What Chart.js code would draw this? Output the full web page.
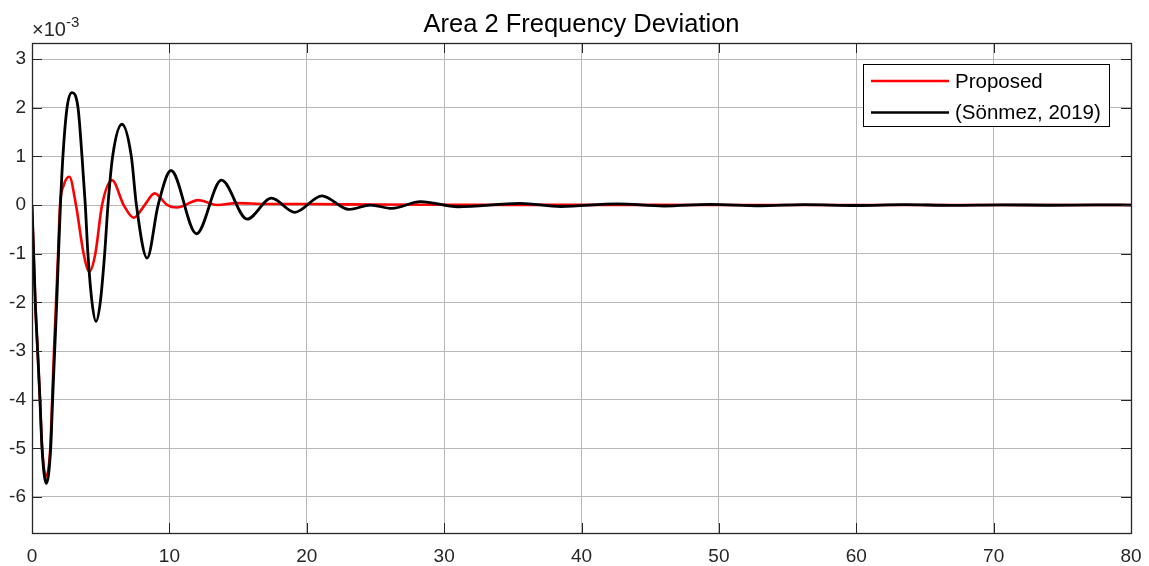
<!DOCTYPE html>
<html>
<head>
<meta charset="utf-8">
<script src="https://cdn.jsdelivr.net/npm/chart.js@4.4.1/dist/chart.umd.min.js"></script>
<style>
  html, body { margin: 0; padding: 0; background: #fff; }
  #wrap { width: 1149px; height: 566px; }
</style>
</head>
<body>
<div id="wrap"><canvas id="freqChart"></canvas></div>
<script>
// values are in units of 1e-3 (shown by the x10^-3 multiplier)
var titleText = "Area 2 Frequency Deviation";
var seriesNames = ["Proposed", "(Sönmez, 2019)"];
var xTicks = [0, 10, 20, 30, 40, 50, 60, 70, 80];
var yTicks = [-6, -5, -4, -3, -2, -1, 0, 1, 2, 3];

var proposedT = [0, 0.12, 0.24, 0.41, 0.58, 0.74, 1.02, 1.33, 1.47, 1.6, 1.75, 1.9, 2.04, 2.3, 2.72,
    3.2, 3.76, 4.18, 4.61, 5.1, 5.83, 6.67, 7.4, 8.2, 8.93, 9.85, 10.55, 12.1, 13.5, 14.9,
    17, 20, 25, 30, 40, 50, 60, 80];
var proposedV = [0, -1, -2, -3, -4, -5, -5.58, -5, -4, -3, -2, -1, 0, 0.4, 0.58,
    0, -1, -1.37, -1, 0, 0.51, 0, -0.26, 0, 0.24, 0, -0.05, 0.1, 0.0, 0.04,
    0.02, 0.02, 0.01, 0.005, 0.003, 0.002, 0.001, 0];

var sonmezT = [0, 0.12, 0.24, 0.41, 0.58, 0.73, 1.04, 1.36, 1.5, 1.65, 1.8, 1.93, 2.07, 2.25, 2.55, 2.91,
    3.35, 3.64, 3.88, 4.07, 4.37, 4.66, 4.97, 5.29, 5.53, 5.87, 6.55, 7.23, 7.6, 8.38, 9.18,
    10.12, 11.97, 13.79, 15.66, 17.43, 19.13, 21.1, 23.07, 24.64, 26.2, 28.28, 31.0, 35.56,
    38.5, 42.6, 46, 49.4, 53, 56.2, 60, 63.5, 67, 70.5, 74, 77.5, 80];
var sonmezV = [0, -1, -2, -3, -4, -5, -5.72, -5, -4, -3, -2, -1, 0, 1, 2, 2.31,
    2, 1, 0, -1, -2, -2.39, -2, -1, 0, 1, 1.66, 1, 0, -1.09, 0,
    0.71, -0.59, 0.51, -0.29, 0.14, -0.15, 0.19, -0.09, 0.0, -0.07, 0.07, -0.035, 0.035,
    -0.03, 0.025, -0.02, 0.015, -0.015, 0.01, -0.01, 0.008, -0.006, 0.005, -0.004, 0.003, 0];

function toPoints(ts, vs) {
    return ts.map(function (t, i) { return { x: t, y: vs[i] }; });
}

var fontFam = "'Liberation Sans', Arial, sans-serif";
var axisColor = '#262626';

var matlabFrame = {
    id: 'matlabFrame',
    afterDatasetsDraw: function (chart) {
        var ctx = chart.ctx, a = chart.chartArea;
        var x = chart.scales.x, y = chart.scales.y;
        ctx.save();
        ctx.strokeStyle = axisColor;
        ctx.lineWidth = 1;
        ctx.beginPath();
        xTicks.forEach(function (v) {
            var px = Math.round(x.getPixelForValue(v)) + 0.5;
            ctx.moveTo(px, a.bottom); ctx.lineTo(px, a.bottom - 10);
            ctx.moveTo(px, a.top); ctx.lineTo(px, a.top + 10);
        });
        yTicks.forEach(function (v) {
            var py = Math.round(y.getPixelForValue(v)) + 0.5;
            ctx.moveTo(a.left, py); ctx.lineTo(a.left + 10, py);
            ctx.moveTo(a.right, py); ctx.lineTo(a.right - 10, py);
        });
        ctx.stroke();
        ctx.lineWidth = 1.3;
        ctx.strokeRect(Math.round(a.left) + 0.5, Math.round(a.top) + 0.5,
            Math.round(a.right - a.left), Math.round(a.bottom - a.top));

        // legend box
        var lx = a.right - 268, ly = a.top + 21, lw = 246, lh = 62;
        ctx.fillStyle = '#fff';
        ctx.fillRect(lx, ly, lw, lh);
        ctx.lineWidth = 1;
        ctx.strokeStyle = '#000';
        ctx.strokeRect(lx + 0.5, ly + 0.5, lw, lh);
        var colors = ['#ff0000', '#000000'];
        var rows = [ly + 17, ly + 48.5];
        ctx.font = '20.5px ' + fontFam;
        ctx.textBaseline = 'middle';
        ctx.textAlign = 'left';
        for (var i = 0; i < 2; i++) {
            ctx.strokeStyle = colors[i];
            ctx.lineWidth = 2.5;
            ctx.beginPath();
            ctx.moveTo(lx + 8, rows[i]); ctx.lineTo(lx + 86, rows[i]);
            ctx.stroke();
            ctx.fillStyle = '#000';
            ctx.fillText(seriesNames[i], lx + 92, rows[i] + 1);
        }

        // title
        ctx.fillStyle = '#000';
        ctx.font = '25.5px ' + fontFam;
        ctx.textAlign = 'center';
        ctx.textBaseline = 'alphabetic';
        ctx.fillText(titleText, (a.left + a.right) / 2, 32);

        // exponent label
        ctx.fillStyle = axisColor;
        ctx.textAlign = 'left';
        ctx.font = '20px ' + fontFam;
        ctx.fillText('\u00d710', 32, 36);
        var w = ctx.measureText('\u00d710').width;
        ctx.font = '15px ' + fontFam;
        ctx.fillText('-3', 32 + w, 27);
        ctx.restore();
    }
};

var ctx = document.getElementById('freqChart');
var freqChart = new Chart(ctx, {
    type: 'line',
    data: {
        datasets: [{
            label: seriesNames[0],
            data: toPoints(proposedT, proposedV),
            borderColor: '#ff0000',
            backgroundColor: '#ff0000',
            borderWidth: 2.6,
            pointRadius: 0,
            cubicInterpolationMode: 'monotone',
            fill: false,
            order: 1
        }, {
            label: seriesNames[1],
            data: toPoints(sonmezT, sonmezV),
            borderColor: '#000000',
            backgroundColor: '#000000',
            borderWidth: 2.8,
            pointRadius: 0,
            cubicInterpolationMode: 'monotone',
            fill: false,
            order: 0
        }]
    },
    options: {
        responsive: true,
        maintainAspectRatio: false,
        animation: false,
        layout: { padding: { left: 0, right: 18, top: 43, bottom: 0 } },
        plugins: {
            legend: { display: false },
            title: { display: false },
            tooltip: { enabled: false }
        },
        scales: {
            x: {
                type: 'linear',
                min: 0,
                max: 80,
                afterBuildTicks: function (scale) {
                    scale.ticks = xTicks.map(function (v) { return { value: v }; });
                },
                afterFit: function (scale) {
                    scale.height = 33;
                    scale.paddingLeft = 0;
                    scale.paddingRight = 0;
                },
                grid: { color: '#b8b8b8', lineWidth: 1, drawTicks: false },
                border: { display: false },
                ticks: {
                    color: axisColor,
                    padding: 12,
                    maxRotation: 0,
                    font: { family: fontFam, size: 19 }
                }
            },
            y: {
                type: 'linear',
                min: -6.74,
                max: 3.33,
                afterBuildTicks: function (scale) {
                    scale.ticks = yTicks.map(function (v) { return { value: v }; });
                },
                afterFit: function (scale) {
                    scale.width = 32;
                    scale.paddingTop = 0;
                    scale.paddingBottom = 0;
                },
                grid: { color: '#b8b8b8', lineWidth: 1, drawTicks: false },
                border: { display: false },
                ticks: {
                    color: axisColor,
                    padding: 6,
                    font: { family: fontFam, size: 19 }
                }
            }
        }
    },
    plugins: [matlabFrame]
});
</script>
</body>
</html>
